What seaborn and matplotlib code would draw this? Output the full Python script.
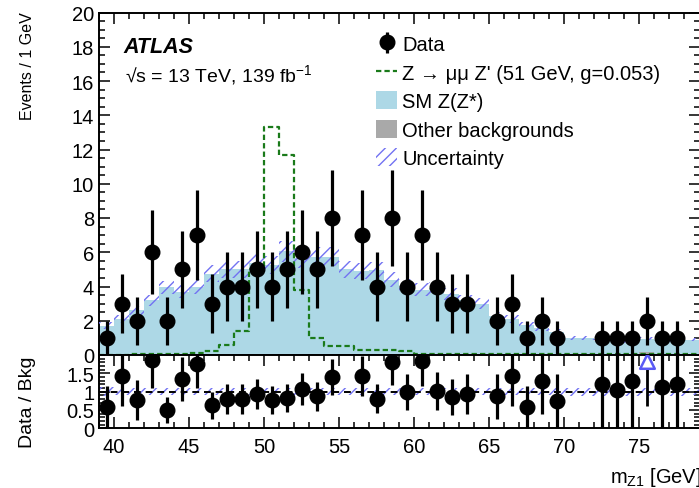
import numpy as np
import pandas as pd
import matplotlib
matplotlib.use("Agg")
import matplotlib.pyplot as plt
from matplotlib.patches import Patch
from matplotlib.lines import Line2D
from matplotlib.ticker import MultipleLocator, FixedLocator, FuncFormatter
import seaborn as sns

# ---- binning: 1 GeV bins in m_Z1 ----
bin_lo, bin_hi, bin_width = 39.0, 79.0, 1.0

# observed events per bin
data_counts = [1, 3, 2, 6, 2, 5, 7, 3, 4, 4,
               5, 4, 5, 6, 5, 8, 0, 7, 4, 8,
               4, 7, 4, 3, 3, 0, 2, 3, 1, 2,
               1, 0, 0, 1, 1, 1, 2, 1, 1, 0]

# SM Z(Z*) expectation
sm_zz = [1.72, 2.10, 2.60, 3.20, 3.95, 3.70, 4.00, 4.75, 5.00, 5.00,
         5.35, 5.25, 6.05, 5.65, 5.75, 5.75, 5.00, 4.90, 4.95, 4.40,
         4.05, 3.80, 3.90, 3.55, 3.20, 3.00, 2.30, 2.10, 1.75, 1.55,
         1.35, 1.00, 1.00, 0.82, 0.95, 0.78, 0.80, 0.88, 0.82, 0.88]

# other backgrounds
other_bkg = [0.00, 0.00, 0.00, 0.00, 0.00, 0.00, 0.00, 0.00, 0.00, 0.00,
             0.00, 0.00, 0.00, 0.00, 0.00, 0.00, 0.00, 0.00, 0.00, 0.00,
             0.00, 0.00, 0.00, 0.00, 0.00, 0.00, 0.00, 0.00, 0.00, 0.00,
             0.00, 0.00, 0.00, 0.00, 0.00, 0.00, 0.15, 0.00, 0.00, 0.00]

# total background uncertainty (absolute)
bkg_unc = [0.20, 0.22, 0.27, 0.33, 0.40, 0.38, 0.41, 0.48, 0.50, 0.50,
           0.54, 0.53, 0.60, 0.57, 0.58, 0.58, 0.50, 0.49, 0.50, 0.44,
           0.41, 0.38, 0.39, 0.36, 0.33, 0.30, 0.24, 0.22, 0.18, 0.16,
           0.14, 0.11, 0.11, 0.09, 0.10, 0.09, 0.10, 0.09, 0.09, 0.09]

# Z -> mu mu Z' signal (51 GeV, g=0.053)
signal = [0.02, 0.02, 0.03, 0.03, 0.03, 0.04, 0.10, 0.25, 0.60, 1.40,
          5.00, 13.3, 11.7, 3.80, 1.00, 0.50, 0.50, 0.30, 0.30, 0.28,
          0.25, 0.06, 0.06, 0.06, 0.06, 0.06, 0.06, 0.06, 0.06, 0.06,
          0.06, 0.06, 0.06, 0.06, 0.06, 0.06, 0.06, 0.06, 0.06, 0.06]

main_yticks = [0, 2, 4, 6, 8, 10, 12, 14, 16, 18, 20]
ratio_yticks = [0, 0.5, 1, 1.5]
ratio_ymax = 2.0

# ---- colours ----
sm_color = "#add8e6"
other_color = "#a9a9a9"
unc_color = "#7272f2"
sig_color = "#1a7a1a"

# ---- style ----
sns.set_style("ticks", {"axes.edgecolor": "black", "xtick.color": "black",
                        "ytick.color": "black", "text.color": "black",
                        "axes.labelcolor": "black"})
plt.rcParams["font.family"] = ["Liberation Sans", "DejaVu Sans"]
plt.rcParams["mathtext.fontset"] = "custom"
plt.rcParams["mathtext.rm"] = "Liberation Sans"
plt.rcParams["mathtext.it"] = "Liberation Sans:italic"
plt.rcParams["mathtext.bf"] = "Liberation Sans:bold"
plt.rcParams["mathtext.default"] = "regular"
plt.rcParams["hatch.linewidth"] = 1.0

W, H = 699, 489
fig = plt.figure(figsize=(W / 100, H / 100), dpi=100)
ax = fig.add_axes([99 / W, 133 / H, 600.5 / W, 342.5 / H])
rax = fig.add_axes([99 / W, 59.7 / H, 600.5 / W, 73.3 / H], sharex=ax)

n = len(data_counts)
edges = bin_lo + bin_width * np.arange(n + 1)
centers = edges[:-1] + 0.5 * bin_width
data = np.array(data_counts, dtype=float)
sm = np.array(sm_zz)
other = np.array(other_bkg)
total = sm + other
unc = np.array(bkg_unc)
edge_list = edges.tolist()

hist = pd.DataFrame({"m": centers, "total": total, "other": other,
                     "signal": np.array(signal)})

# ---- main panel: stacked backgrounds ----
sns.histplot(data=hist, x="m", weights="total", bins=edge_list, element="step",
             fill=True, color=sm_color, alpha=1, linewidth=0, ax=ax, zorder=1)
sns.histplot(data=hist, x="m", weights="other", bins=edge_list, element="step",
             fill=True, color=other_color, alpha=1, linewidth=0, ax=ax, zorder=2)

# uncertainty band
band_lo = np.append(total - unc, (total - unc)[-1])
band_hi = np.append(total + unc, (total + unc)[-1])
ax.fill_between(edges, band_lo, band_hi, step="post", facecolor="none",
                edgecolor=unc_color, hatch="///", linewidth=0, zorder=3)

# signal
sns.histplot(data=hist, x="m", weights="signal", bins=edge_list, element="step",
             fill=False, color=sig_color, linewidth=1.6,
             linestyle=(0, (2.4, 1.4)), ax=ax, zorder=4)

# data
obs = data > 0
data_handle = ax.errorbar(centers[obs], data[obs], yerr=np.sqrt(data[obs]),
                          fmt="o", color="black", ms=10.5, elinewidth=2.3,
                          capsize=0, zorder=6, label="Data")

ax.set_xlim(bin_lo, bin_hi)
ax.set_ylim(main_yticks[0], main_yticks[-1])
ax.set_xlabel("")
ax.set_ylabel("")
ax.yaxis.set_major_locator(FixedLocator(main_yticks))
ax.yaxis.set_minor_locator(MultipleLocator(0.5))
ax.xaxis.set_major_locator(MultipleLocator(5))
ax.xaxis.set_minor_locator(MultipleLocator(1))

# ---- ratio panel ----
ratio = np.where(obs, data / total, np.nan)
ratio_err = np.sqrt(data) / total
rband_lo = np.append(1 - unc / total, (1 - unc / total)[-1])
rband_hi = np.append(1 + unc / total, (1 + unc / total)[-1])
rax.fill_between(edges, rband_lo, rband_hi, step="post", facecolor="none",
                 edgecolor=unc_color, hatch="///", linewidth=0, zorder=2)
rax.axhline(1.0, color="black", ls=(0, (3.5, 2.5)), lw=1.4, zorder=3)

inside = obs & (ratio <= ratio_ymax)
rax.errorbar(centers[inside], ratio[inside], yerr=ratio_err[inside], fmt="o",
             color="black", ms=10.5, elinewidth=2.3, capsize=0, zorder=6)
above = obs & (ratio > ratio_ymax)
rax.vlines(centers[above], (ratio - ratio_err)[above], ratio_ymax,
           color="black", lw=2.0, zorder=5)
rax.scatter(centers[above], np.full(above.sum(), 0.915 * ratio_ymax),
            marker="^", s=110, facecolors="white", edgecolors="#5a5af5",
            linewidths=1.8, zorder=7)

rax.set_ylim(0, ratio_ymax)
rax.set_xlabel("")
rax.set_ylabel("")
rax.yaxis.set_major_locator(FixedLocator(ratio_yticks))
rax.yaxis.set_minor_locator(MultipleLocator(0.1))
rax.yaxis.set_major_formatter(FuncFormatter(lambda v, p: f"{v:g}"))

for a in (ax, rax):
    a.tick_params(which="both", direction="in", top=True, right=True,
                  labelsize=14.5, width=1.1)
    a.tick_params(which="major", length=8)
    a.tick_params(which="minor", length=4)
    for s in a.spines.values():
        s.set_linewidth(1.4)
        s.set_color("black")
ax.tick_params(labelbottom=False)
rax.tick_params(axis="x", pad=6)

# ---- legend ----
handles = [
    data_handle,
    Line2D([], [], color=sig_color, lw=1.6, ls=(0, (2.4, 1.4))),
    Patch(facecolor=sm_color, edgecolor="none"),
    Patch(facecolor=other_color, edgecolor="none"),
    Patch(facecolor="none", edgecolor=unc_color, hatch="///", linewidth=0),
]
labels = ["Data", "Z \u2192 \u03bc\u03bc Z' (51 GeV, g=0.053)", "SM Z(Z*)",
          "Other backgrounds", "Uncertainty"]
ax.legend(handles, labels, loc="upper left",
          bbox_to_anchor=(376 / W, 1 - 35.5 / H), bbox_transform=fig.transFigure,
          frameon=False, fontsize=14.5, handlelength=1.05, handleheight=1.0,
          handletextpad=0.25, labelspacing=0.42, borderpad=0, borderaxespad=0)

# ---- texts ----
fig.text(123 / W, 1 - 53 / H, "ATLAS", fontsize=15.5, fontweight="bold",
         fontstyle="italic", va="baseline")
fig.text(125 / W, 1 - 82 / H, "\u221as = 13 TeV, 139 fb$^{-1}$",
         fontsize=14, va="baseline")
fig.text(28 / W, 1 - 12 / H, "Events / 1 GeV", rotation=90, ha="center",
         va="top", fontsize=11.5)
fig.text(28 / W, 1 - 402 / H, "Data / Bkg", rotation=90, ha="center",
         va="center", fontsize=14)
fig.text(1.004, 6 / H, "m$_{Z1}$ [GeV]", ha="right", va="baseline",
         fontsize=14.5)

fig.savefig("out.png", dpi=100)
